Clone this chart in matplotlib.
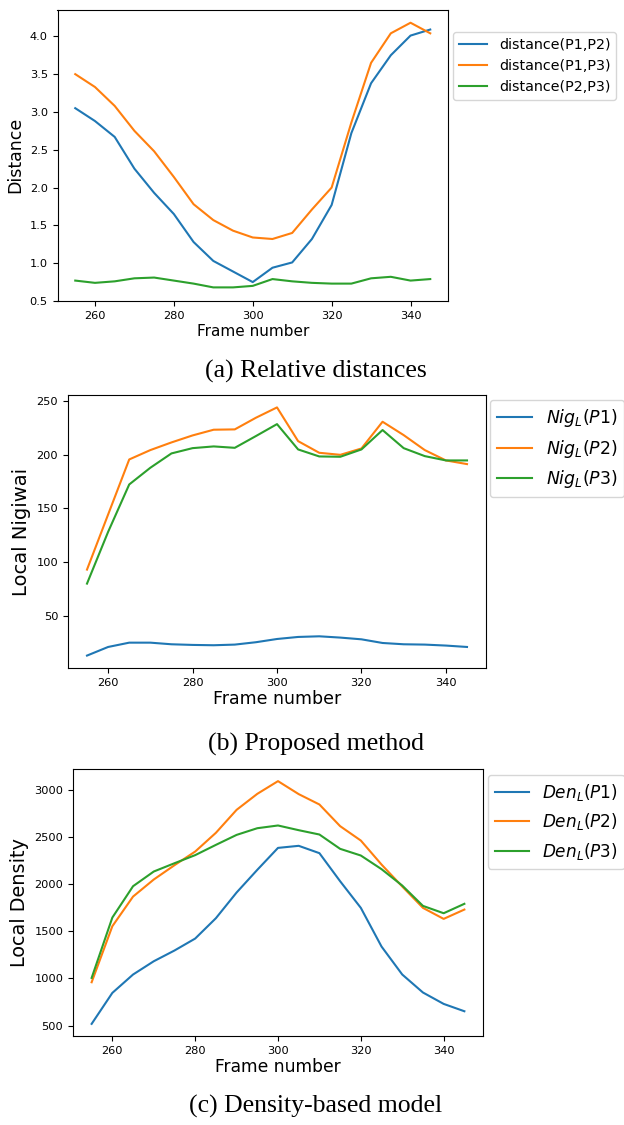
import numpy as np
import matplotlib
matplotlib.use("Agg")
import matplotlib.pyplot as plt

# frame numbers shared by the three panels
frames = list(range(255, 350, 5))

# (a) relative distances
dist_p1p2 = [3.05, 2.88, 2.67, 2.25, 1.93, 1.65, 1.28, 1.03, 0.89, 0.75, 0.94, 1.01, 1.32, 1.77,
             2.72, 3.38, 3.75, 4.01, 4.09]
dist_p1p3 = [3.50, 3.33, 3.08, 2.75, 2.48, 2.14, 1.78, 1.57, 1.43, 1.34, 1.32, 1.40, 1.71, 2.00,
             2.86, 3.65, 4.04, 4.18, 4.04]
dist_p2p3 = [0.77, 0.74, 0.76, 0.80, 0.81, 0.77, 0.73, 0.68, 0.68, 0.70, 0.79, 0.76, 0.74, 0.73,
             0.73, 0.80, 0.82, 0.77, 0.79]

# (b) proposed method - local nigiwai
nig_p1 = [13.5, 21.5, 25.5, 25.5, 24.0, 23.4, 23.1, 23.7, 25.9, 28.9, 30.8, 31.4, 30.2, 28.6,
          25.2, 24.0, 23.7, 22.8, 21.5]
nig_p2 = [93.3, 144.4, 195.5, 204.2, 211.3, 217.8, 223.1, 223.4, 234.2, 243.8, 212.5, 201.7,
          199.8, 205.7, 230.5, 218.1, 204.2, 194.6, 191.2]
nig_p3 = [80.3, 128.3, 172.3, 187.8, 201.1, 206.0, 207.6, 206.3, 217.2, 228.3, 204.8, 198.3,
          198.0, 204.8, 222.8, 206.0, 198.6, 194.6, 194.6]

# (c) density-based model
den_p1 = [518, 847, 1042, 1183, 1297, 1424, 1640, 1913, 2154, 2387, 2409, 2331, 2033, 1750,
          1339, 1042, 851, 730, 652]
den_p2 = [960, 1555, 1870, 2051, 2203, 2348, 2547, 2791, 2961, 3096, 2958, 2848, 2618, 2465,
          2210, 1977, 1750, 1633, 1732]
den_p3 = [1006, 1647, 1980, 2136, 2224, 2310, 2419, 2525, 2596, 2625, 2575, 2529, 2377, 2306,
          2161, 1987, 1771, 1693, 1793]

W, H = 624, 1125
fig = plt.figure(figsize=(W / 100, H / 100), dpi=100)


def px_axes(left, top, right, bottom):
    return fig.add_axes([left / W, 1 - bottom / H, (right - left) / W, (bottom - top) / H])


def put_legend(ax, x, y, size):
    ax.legend(loc='upper left', bbox_to_anchor=(x / W, 1 - y / H), bbox_transform=fig.transFigure,
              borderaxespad=0, fontsize=size)


# panel a
ax1 = px_axes(57.5, 9.5, 448, 301)
ax1.plot(frames, dist_p1p2, label='distance(P1,P2)')
ax1.plot(frames, dist_p1p3, label='distance(P1,P3)')
ax1.plot(frames, dist_p2p3, label='distance(P2,P3)')
ax1.set_yticks(np.arange(0.5, 4.01, 0.5))
ax1.set_xlabel('Frame number', fontsize=11, labelpad=2)
ax1.set_ylabel('Distance', fontsize=12.5)
ax1.tick_params(labelsize=8.2)
put_legend(ax1, 453, 32, 10.3)

# panel b
ax2 = px_axes(68, 395, 486, 668)
ax2.plot(frames, nig_p1, label=r'$Nig_L(P1)$')
ax2.plot(frames, nig_p2, label=r'$Nig_L(P2)$')
ax2.plot(frames, nig_p3, label=r'$Nig_L(P3)$')
ax2.set_xlabel('Frame number', fontsize=12.5, labelpad=2)
ax2.set_ylabel('Local Nigiwai', fontsize=14)
ax2.tick_params(labelsize=8.2)
put_legend(ax2, 490, 400, 12.5)

# panel c
ax3 = px_axes(73, 769, 483, 1036)
ax3.plot(frames, den_p1, label=r'$Den_L(P1)$')
ax3.plot(frames, den_p2, label=r'$Den_L(P2)$')
ax3.plot(frames, den_p3, label=r'$Den_L(P3)$')
ax3.set_xlabel('Frame number', fontsize=12.3, labelpad=2)
ax3.set_ylabel('Local Density', fontsize=13.9)
ax3.tick_params(labelsize=8.2)
put_legend(ax3, 488, 775, 12.2)

for ax in (ax1, ax2, ax3):
    ax.set_xticks([260, 280, 300, 320, 340])

cap = dict(ha='center', va='center', fontsize=18.5, family='Liberation Serif')
fig.text(316 / W, 1 - 371 / H, '(a) Relative distances', **cap)
fig.text(316 / W, 1 - 744 / H, '(b) Proposed method', **cap)
fig.text(316 / W, 1 - 1106 / H, '(c) Density-based model', **cap)

fig.savefig('out.png', dpi=100)
